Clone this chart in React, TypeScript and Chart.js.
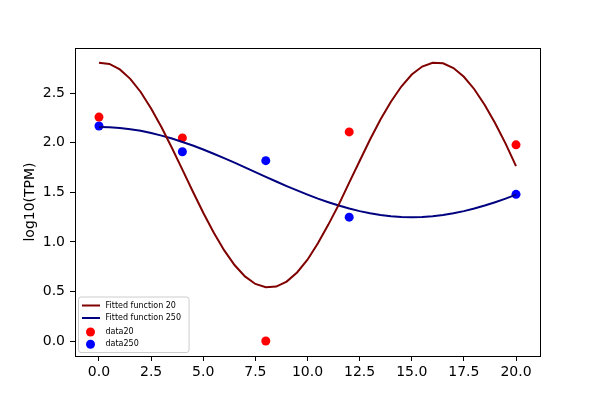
import React, { useEffect, useRef } from "react";
import { Chart, registerables } from "chart.js";

Chart.register(...registerables);

const FONT = "'DejaVu Sans', sans-serif";

// fitted curves, sampled every 0.5 on x
const fitX = [
  0, 0.5, 1, 1.5, 2, 2.5, 3, 3.5, 4, 4.5, 5, 5.5, 6, 6.5, 7, 7.5, 8, 8.5, 9, 9.5, 10,
  10.5, 11, 11.5, 12, 12.5, 13, 13.5, 14, 14.5, 15, 15.5, 16, 16.5, 17, 17.5, 18, 18.5,
  19, 19.5, 20,
];
const fit20 = [
  2.809, 2.796, 2.741, 2.646, 2.513, 2.347, 2.157, 1.948, 1.73, 1.509, 1.295, 1.095,
  0.917, 0.767, 0.652, 0.576, 0.542, 0.55, 0.6, 0.692, 0.821, 0.986, 1.175, 1.376, 1.598,
  1.817, 2.033, 2.236, 2.415, 2.568, 2.689, 2.77, 2.807, 2.803, 2.755, 2.667, 2.541,
  2.382, 2.197, 1.992, 1.765,
];
const fit250 = [
  2.16, 2.157, 2.15, 2.138, 2.121, 2.099, 2.073, 2.043, 2.009, 1.973, 1.933, 1.89, 1.846,
  1.8, 1.753, 1.705, 1.657, 1.61, 1.564, 1.52, 1.478, 1.437, 1.401, 1.367, 1.337, 1.311,
  1.289, 1.272, 1.26, 1.252, 1.25, 1.252, 1.26, 1.272, 1.289, 1.311, 1.337, 1.367, 1.401,
  1.437, 1.478,
];

// measured points
const sampleX = [0, 4, 8, 12, 20];
const data20 = [2.26, 2.05, 0.0, 2.11, 1.98];
const data250 = [2.17, 1.91, 1.82, 1.25, 1.48];

const xTicks = [0, 2.5, 5, 7.5, 10, 12.5, 15, 17.5, 20];
const yTicks = [0, 0.5, 1, 1.5, 2, 2.5];

// box round the plot area, like matplotlib spines
const framePlugin = {
  id: "frame",
  afterDatasetsDraw(chart: any) {
    const { ctx, chartArea: a } = chart;
    ctx.save();
    ctx.strokeStyle = "#000";
    ctx.lineWidth = 1;
    ctx.strokeRect(Math.round(a.left) + 0.5, Math.round(a.top) + 0.5,
      Math.round(a.right - a.left), Math.round(a.bottom - a.top));
    ctx.restore();
  },
};

// legend in the lower left corner, inside the axes
const insideLegend = {
  id: "insideLegend",
  afterDraw(chart: any) {
    const { ctx, chartArea: a } = chart;
    const sets = chart.data.datasets;
    ctx.save();
    ctx.font = `8px ${FONT}`;
    const textW = Math.max(...sets.map((d: any) => ctx.measureText(d.label).width));
    const left = a.left + 3.5;
    const h = 55.5;
    const top = a.bottom - 3.5 - h;
    const textX = left + 27;
    const w = textX - left + textW + 8;

    ctx.beginPath();
    ctx.roundRect(left, top, w, h, 2.5);
    ctx.fillStyle = "rgba(255,255,255,0.8)";
    ctx.fill();
    ctx.strokeStyle = "#cccccc";
    ctx.lineWidth = 1;
    ctx.stroke();

    const rows = [8.5, 21, 35, 47.3];
    sets.forEach((d: any, i: number) => {
      const y = top + rows[i];
      if (d.showLine) {
        ctx.beginPath();
        ctx.moveTo(left + 3.5, y);
        ctx.lineTo(left + 21.5, y);
        ctx.strokeStyle = d.borderColor;
        ctx.lineWidth = 2;
        ctx.stroke();
      } else {
        ctx.beginPath();
        ctx.arc(left + 12, y, 4.5, 0, Math.PI * 2);
        ctx.fillStyle = d.backgroundColor;
        ctx.fill();
      }
      ctx.fillStyle = "#000";
      ctx.textBaseline = "middle";
      ctx.fillText(d.label, textX, y);
    });
    ctx.restore();
  },
};

function App() {
  const chartRef = useRef<HTMLCanvasElement>(null);

  useEffect(() => {
    document.body.style.margin = "0";
    const canvas = chartRef.current?.getContext("2d");
    if (!canvas) {
      return;
    }

    const tickGrid = {
      drawOnChartArea: false,
      drawTicks: true,
      tickLength: 5,
      color: "#000",
      lineWidth: 1,
    };

    const chart = new Chart(canvas, {
      type: "scatter",
      data: {
        datasets: [
          {
            label: "Fitted function 20",
            data: fitX.map((x, i) => ({ x, y: fit20[i] })),
            showLine: true,
            borderColor: "#800000",
            borderWidth: 2,
            pointRadius: 0,
            tension: 0,
            order: 0,
          },
          {
            label: "Fitted function 250",
            data: fitX.map((x, i) => ({ x, y: fit250[i] })),
            showLine: true,
            borderColor: "#000080",
            borderWidth: 2,
            pointRadius: 0,
            tension: 0,
            order: 0,
          },
          {
            label: "data20",
            data: sampleX.map((x, i) => ({ x, y: data20[i] })),
            backgroundColor: "#ff0000",
            borderWidth: 0,
            pointRadius: 4.5,
            order: 1,
          },
          {
            label: "data250",
            data: sampleX.map((x, i) => ({ x, y: data250[i] })),
            backgroundColor: "#0000ff",
            borderWidth: 0,
            pointRadius: 4.5,
            order: 1,
          },
        ],
      },
      options: {
        animation: false,
        responsive: false,
        layout: { padding: { top: 48, right: 60, left: 0, bottom: 0 } },
        plugins: {
          legend: { display: false },
          tooltip: { enabled: false },
        },
        scales: {
          x: {
            type: "linear",
            min: -1.15,
            max: 21.15,
            afterBuildTicks: (s: any) => {
              s.ticks = xTicks.map((v) => ({ value: v }));
            },
            afterFit: (s: any) => {
              s.height = 44;
            },
            grid: tickGrid,
            border: { display: false },
            ticks: {
              color: "#000",
              font: { family: FONT, size: 14 },
              padding: 3,
              maxRotation: 0,
              autoSkip: false,
              callback: (v: any) => Number(v).toFixed(1),
            },
          },
          y: {
            type: "linear",
            min: -0.151,
            max: 2.957,
            afterBuildTicks: (s: any) => {
              s.ticks = yTicks.map((v) => ({ value: v }));
            },
            afterFit: (s: any) => {
              s.width = 75;
            },
            grid: tickGrid,
            border: { display: false },
            title: {
              display: true,
              text: "log10(TPM)",
              color: "#000",
              font: { family: FONT, size: 14 },
              padding: { top: 22, bottom: 0 },
            },
            ticks: {
              color: "#000",
              font: { family: FONT, size: 14 },
              padding: 5,
              autoSkip: false,
              callback: (v: any) => Number(v).toFixed(1),
            },
          },
        },
      },
      plugins: [framePlugin, insideLegend],
    } as any);

    return () => {
      chart.destroy();
    };
  }, []);

  return (
    <div style={{ width: 600, height: 400, background: "#fff" }}>
      <canvas ref={chartRef} width={600} height={400} />
    </div>
  );
}

export default App;
